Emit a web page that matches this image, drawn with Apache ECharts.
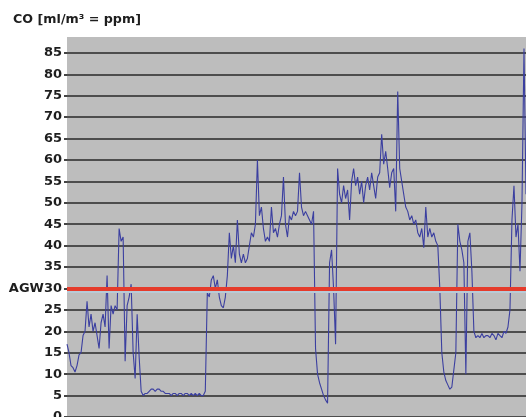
<!DOCTYPE html>
<html>
<head>
<meta charset="utf-8">
<script src="https://cdn.jsdelivr.net/npm/echarts@6/dist/echarts.min.js"></script>
<style>
html,body{margin:0;padding:0;background:#fff;}
#chart{width:526px;height:417px;}
</style>
</head>
<body>
<div id="chart"></div>
<script>
// CO concentration samples (ppm), left to right
const coValues = [
  17, 15, 12, 11.5, 10.5, 12, 14.5, 15, 19, 20,
  27, 21, 24, 20, 22, 19, 16, 22, 24, 21,
  33, 16, 26, 24, 26, 25, 44, 41, 42, 13,
  26, 28, 31, 15, 9, 24, 14, 6, 5, 5.5,
  5.5, 6, 6.5, 6.5, 6, 6.5, 6.5, 6, 6, 5.5,
  5.5, 5.5, 5, 5.5, 5.5, 5, 5.5, 5.5, 5, 5.5,
  5.5, 5, 5.5, 5, 5.5, 5, 5.5, 5, 5, 6,
  29, 28, 32, 33, 30, 32, 28, 26, 25.5, 28,
  33, 43, 37, 40, 36, 46, 38, 36, 38, 36,
  37, 40, 43, 42, 45, 60, 47, 49, 44, 41,
  42, 41, 49, 43, 44, 42, 45, 47, 56, 45,
  42, 47, 46, 48, 47, 48, 57, 49, 47, 48,
  47, 46, 45, 48, 16, 10, 8, 6.5, 5, 4,
  3.2, 36, 39, 30, 17, 58, 52, 50, 54, 51,
  53, 46, 55, 58, 54, 56, 52, 55, 50, 54,
  56, 53, 57, 54, 51, 56, 57, 66, 59, 62,
  58, 53.5, 57, 58, 48, 76, 58, 55, 52, 49,
  48, 46, 47, 45, 46, 43, 42, 44, 39.5, 49,
  42, 44, 42, 43, 41, 40, 30, 15, 10.5, 8.5,
  7.5, 6.5, 7, 11, 15, 45, 41, 39, 36, 10,
  41, 43, 34, 20, 18.5, 19, 18.5, 19.5, 18.5, 19,
  19, 18.5, 19.5, 19, 18, 19.5, 19, 18.5, 20, 19.5,
  21, 25, 46, 54, 42, 45, 34, 50, 86, 52
];
const sampleIndex = coValues.map((_, i) => i);
const yTicks = [0, 5, 10, 15, 20, 25, 30, 35, 40, 45, 50, 55, 60, 65, 70, 75, 80, 85];
const limitValue = 30;
const limitLabel = 'AGW';
const titleText = 'CO [ml/m\u00B3 = ppm]';

const FONT = '"DejaVu Sans", Verdana, sans-serif';
const chart = echarts.init(document.getElementById('chart'), null, {renderer: 'canvas'});
chart.setOption({
  animation: false,
  backgroundColor: '#ffffff',
  title: {
    text: titleText,
    left: 13, top: 13, padding: 0,
    textStyle: {fontFamily: FONT, fontSize: 12.7, fontWeight: 'bold', color: '#1e1e1e'}
  },
  grid: {
    left: 67, right: 0, top: 37, bottom: 0,
    outerBoundsMode: 'none',
    containLabel: false,
    show: true, backgroundColor: '#bdbdbd', borderWidth: 0
  },
  xAxis: {
    type: 'category',
    data: sampleIndex,
    boundaryGap: false,
    show: false
  },
  yAxis: {
    type: 'value',
    min: 0, max: 88.7, interval: 5,
    axisLine: {show: false},
    axisTick: {show: true, length: 3, lineStyle: {color: '#444', width: 2}},
    splitLine: {show: true, showMaxLine: false, lineStyle: {color: '#4d4d4d', width: 2}},
    axisLabel: {
      showMaxLabel: false,
      margin: 5,
      fontFamily: FONT,
      fontSize: 13, fontWeight: 'bold', color: '#1e1e1e',
      formatter: function (v) {
        if (yTicks.indexOf(v) < 0) return '';
        return v === limitValue ? limitLabel + v : String(v);
      }
    }
  },
  series: [{
    type: 'line',
    data: coValues,
    showSymbol: false,
    symbol: 'none',
    lineStyle: {color: '#3b3fa0', width: 1.1},
    z: 3,
    markLine: {
      silent: true,
      symbol: 'none',
      label: {show: false},
      data: [
        {yAxis: limitValue - 0.6, lineStyle: {color: '#b8cad6', width: 3, type: 'solid'}},
        {yAxis: limitValue, lineStyle: {color: '#e53b2b', width: 4, type: 'solid'}}
      ]
    }
  }]
});
</script>
</body>
</html>
